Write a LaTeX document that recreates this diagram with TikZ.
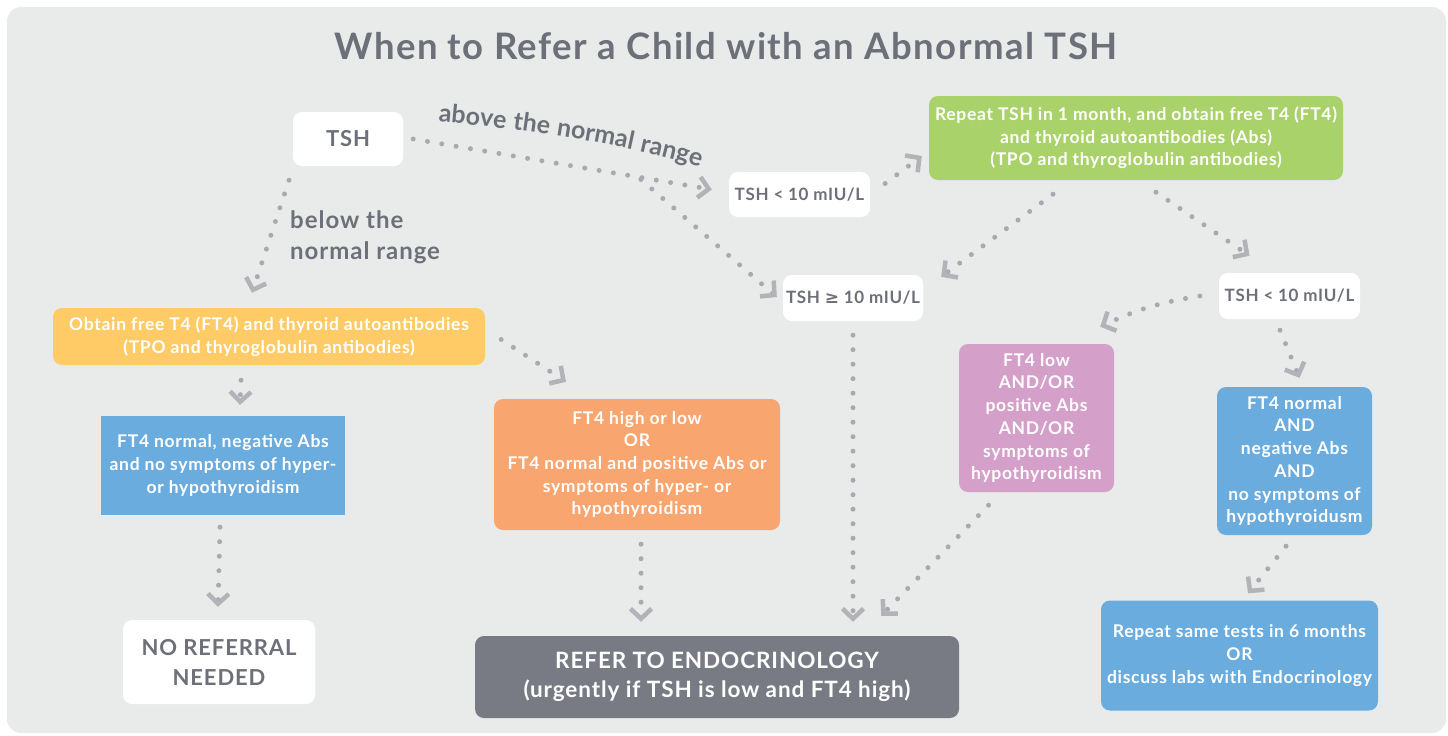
\documentclass[tikz,border=0pt]{standalone}
\usepackage{fontspec}
\setmainfont{Lato}[LetterSpace=4]
\newfontfamily\symfont{DejaVu Sans}
\usetikzlibrary{arrows.meta,calc,decorations.text}
\definecolor{bgc}{HTML}{E9EBEA}
\definecolor{tg}{HTML}{6D7079}
\definecolor{dotc}{HTML}{A9AAAF}
\definecolor{arrc}{HTML}{B2B2B8}
\definecolor{greenc}{HTML}{AAD26B}
\definecolor{yellowc}{HTML}{FECB66}
\definecolor{bluec}{HTML}{6BACDE}
\definecolor{orangec}{HTML}{F8A56F}
\definecolor{pinkc}{HTML}{D49FC8}
\definecolor{darkc}{HTML}{787B83}
\tikzset{
  box/.style={align=center, inner sep=0pt, rounded corners=9pt, text=white,
    font=\fontsize{17.5}{22.7}\selectfont\bfseries},
  whitebox/.style={box, fill=white, text=tg},
  flow/.style={draw=dotc, line width=5pt, line cap=round, dash pattern=on 0pt off 14.5pt,
    -{Straight Barb[length=10pt,width=21pt,line width=4.5pt,color=arrc]}},
  lbl/.style={text=tg, font=\fontsize{24}{31}\selectfont\bfseries, inner sep=0pt}
}
\begin{document}
\begin{tikzpicture}[x=1pt,y=-1pt]
\useasboundingbox (0,0) rectangle (1448,736);
\fill[white] (0,0) rectangle (1448,736);
\fill[bgc, rounded corners=14pt] (7,7) rectangle (1446,733);

\node[text=tg, font=\fontsize{36.5}{40}\selectfont\bfseries, inner sep=0pt] (title) at (726,46) {When to Refer a Child with an Abnormal TSH};

\node[whitebox, minimum width=110pt, minimum height=54pt, font=\fontsize{22}{26}\selectfont\bfseries] (tsh) at (348,139) {TSH};
\node[whitebox, minimum width=141pt, minimum height=45pt, font=\fontsize{17}{20}\selectfont\bfseries] (lt10a) at (799.5,194.5) {TSH < 10 mIU/L};
\node[whitebox, minimum width=140pt, minimum height=46pt, font=\fontsize{17}{20}\selectfont\bfseries] (ge10) at (853,298) {TSH {\symfont ≥} 10 mIU/L};
\node[box, fill=greenc, minimum width=414pt, minimum height=84pt] (green) at (1136,138) {Repeat TSH in 1 month, and obtain free T4 (FT4)\\and thyroid autoantibodies (Abs)\\(TPO and thyroglobulin antibodies)};
\node[whitebox, minimum width=141pt, minimum height=46pt, font=\fontsize{17}{20}\selectfont\bfseries] (lt10b) at (1289.5,296) {TSH < 10 mIU/L};
\node[box, fill=yellowc, minimum width=432pt, minimum height=57pt] (yellow) at (269,336.5) {Obtain free T4 (FT4) and thyroid autoantibodies\\(TPO and thyroglobulin antibodies)};
\node[box, fill=bluec, rounded corners=0pt, minimum width=244pt, minimum height=99pt] (blueL) at (223,465.5) {FT4 normal, negative Abs\\and no symptoms of hyper-\\or hypothyroidism};
\node[box, fill=orangec, minimum width=286pt, minimum height=131pt] (orange) at (637,464.5) {FT4 high or low\\OR\\FT4 normal and positive Abs or\\symptoms of hyper- or\\hypothyroidism};
\node[box, fill=pinkc, minimum width=155pt, minimum height=148pt] (pink) at (1036.5,418) {FT4 low\\AND/OR\\positive Abs\\AND/OR\\symptoms of\\hypothyroidism};
\node[box, fill=bluec, minimum width=155pt, minimum height=148pt] (blueR) at (1294.5,461) {FT4 normal\\AND\\negative Abs\\AND\\no symptoms of\\hypothyroidusm};
\node[whitebox, minimum width=192pt, minimum height=84pt, font=\fontsize{22}{30}\selectfont\bfseries] (noref) at (219,662) {NO REFERRAL\\NEEDED};
\node[box, fill=darkc, minimum width=484pt, minimum height=82pt, font=\fontsize{22.5}{29}\selectfont\bfseries] (refer) at (717,677) {REFER TO ENDOCRINOLOGY\\(urgently if TSH is low and FT4 high)};
\node[box, fill=bluec, minimum width=277pt, minimum height=110pt] (repeat) at (1239.5,655.5) {Repeat same tests in 6 months\\OR\\discuss labs with Endocrinology};

\node[lbl, anchor=north west, align=left] (below) at (290,210) {below the\\normal range};
\path[decorate, decoration={text along path, text align=center,
  text={|\fontsize{25}{28}\selectfont\bfseries\color{tg}|above the normal range}}]
  (430,121) .. controls (520,128) and (620,143) .. (708,169);

\draw[flow] ([xshift=-59pt,yshift=-14pt]tsh.south) -- ([xshift=-17pt,yshift=15pt]yellow.north);
\draw[flow] ([xshift=10pt]tsh.east) -- ([xshift=-17pt,yshift=5pt]lt10a.west);
\draw[flow] ($(tsh.east)!0.73!(lt10a.west)$) -- ([xshift=-6pt,yshift=1pt]ge10.west);
\draw[flow] ([xshift=15pt,yshift=11pt]lt10a.east) -- ([xshift=-7pt,yshift=-18pt]green.west);
\draw[flow] ([xshift=-83pt,yshift=-14pt]green.south) -- ([xshift=18pt,yshift=-2pt]ge10.north east);
\draw[flow] ([xshift=20pt,yshift=-12pt]green.south) -- ([xshift=-40pt,yshift=17pt]lt10b.north);
\draw[flow] ([xshift=-19pt]lt10b.west) to[bend right=8] ([xshift=-14pt,yshift=17pt]pink.north east);
\draw[flow] ([xshift=-9.5pt,yshift=-11pt]lt10b.south) -- ([xshift=5pt,yshift=9pt]blueR.north);
\draw[flow] ([xshift=-28pt,yshift=-15pt]yellow.south) -- ([xshift=17pt,yshift=11pt]blueL.north);
\draw[flow] ([xshift=16pt,yshift=-3pt]yellow.east) -- ([xshift=-71pt,yshift=17pt]orange.north);
\draw[flow] ([xshift=-3pt,yshift=-12pt]blueL.south) -- ([xshift=-1pt,yshift=13pt]noref.north);
\draw[flow] ([xshift=4pt,yshift=-14pt]orange.south) -- ([xshift=-76pt,yshift=14pt]refer.north);
\draw[flow] ([yshift=-14pt]ge10.south) -- ([xshift=136pt,yshift=14pt]refer.north);
\draw[flow] ([xshift=-48pt,yshift=-13pt]pink.south) -- ([xshift=-78pt,yshift=20pt]refer.north east);
\draw[flow] ([xshift=-8.5pt,yshift=-11pt]blueR.south) -- ([xshift=8.5pt,yshift=7pt]repeat.north);
\end{tikzpicture}
\end{document}
